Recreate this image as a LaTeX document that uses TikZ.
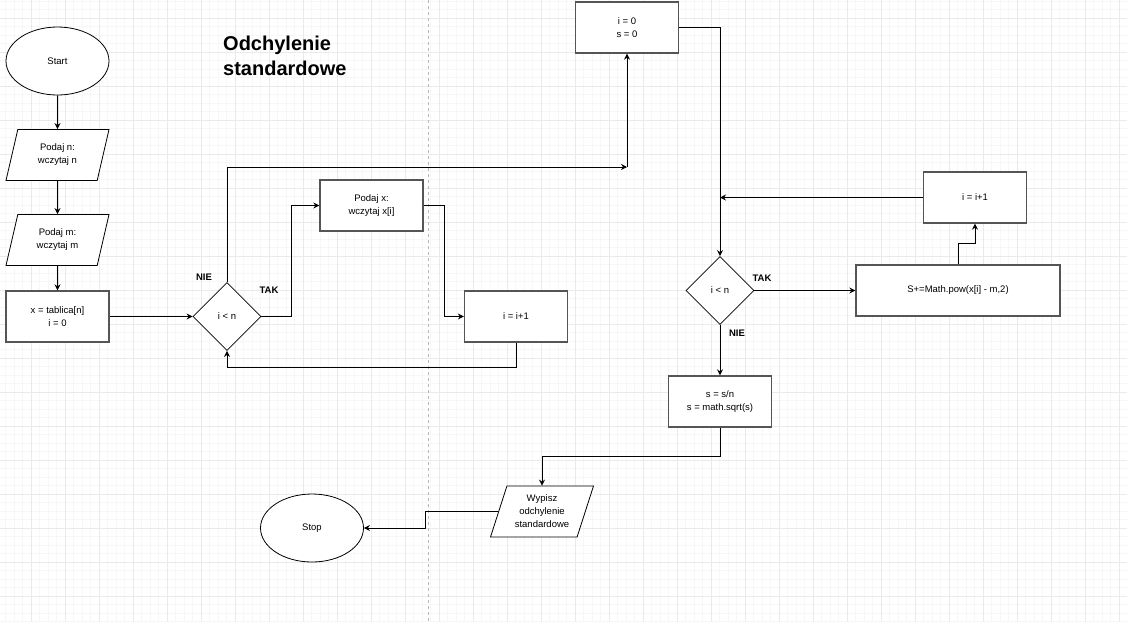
\documentclass[tikz,border=0pt]{standalone}
\usepackage{fontspec}
\setmainfont{Liberation Sans}
\usepackage{xcolor}
\usepackage{tikz}
\usetikzlibrary{arrows.meta}
\usetikzlibrary{shapes.geometric}
\usetikzlibrary{calc}

\definecolor{gridminor}{HTML}{F7F7F7}
\definecolor{gridmajor}{HTML}{EAEAEA}
\definecolor{boxline}{HTML}{555555}

\begin{document}
\begin{tikzpicture}[x=1pt,y=-1pt]

% Define styles
\tikzset{
    txt/.style={align=center, font=\fontsize{9.5}{13}\selectfont},
    box/.style={txt, draw=boxline, line width=1.3pt, fill=white, minimum width=103pt, minimum height=51pt},
    terminal/.style={txt, ellipse, draw, line width=0.8pt, fill=white, minimum width=103pt, minimum height=68pt},
    inout/.style={txt, trapezium, trapezium left angle=67.5, trapezium right angle=112.5, trapezium stretches body, draw, line width=0.8pt, fill=white, minimum width=103pt, minimum height=51pt},
    decision/.style={txt, diamond, draw, line width=0.8pt, fill=white, minimum width=68pt, minimum height=68pt, inner sep=0pt},
    label/.style={font=\bfseries\fontsize{9.5}{11}\selectfont},
    arrow/.style={line width=1pt, -{Stealth[length=6pt,width=6pt,inset=2pt]}}
}

% page and grid lines
\useasboundingbox (0,0) rectangle (1127,622);
\fill[white] (0,0) rectangle (1127,622);
\foreach \x in {5.5,14,...,1127} \draw[gridminor, line width=0.8pt] (\x,0) -- (\x,622);
\foreach \y in {1,9.5,...,622} \draw[gridminor, line width=0.8pt] (0,\y) -- (1127,\y);
\foreach \x in {31,65,...,1127} \draw[gridmajor, line width=0.9pt] (\x,0) -- (\x,622);
\foreach \y in {18,52,...,622} \draw[gridmajor, line width=0.9pt] (0,\y) -- (1127,\y);

% page break line
\draw[gray!55, dashed, line width=0.8pt] (428,0) -- (428,622);

% title
\node[anchor=west, align=left, inner sep=0pt, font=\bfseries\fontsize{20}{25}\selectfont] (title) at (223,56) {Odchylenie\\standardowe};

% left column
\node[terminal] (start) at (57.5,61) {Start};
\node[inout] (podajn) at (57.5,155) {Podaj n:\\wczytaj n};
\node[inout] (podajm) at (57.5,240) {Podaj m:\\wczytaj m};
\node[box] (init) at (57.5,316.5) {x = tablica[n]\\i = 0};

% first loop
\node[decision] (cond1) at (227,316.5) {i < n};
\node[box] (podajx) at (371.5,205.5) {Podaj x:\\wczytaj x[i]};
\node[box] (inc1) at (516,316.5) {i = i+1};

% second loop
\node[box] (init2) at (627,27.5) {i = 0\\s = 0};
\node[decision] (cond2) at (720,290.5) {i < n};
\node[box, minimum width=204pt] (sum) at (958,290.5) {S+=Math.pow(x[i] - m,2)};
\node[box] (inc2) at (975,197.5) {i = i+1};
\node[box] (wynik) at (720,401.5) {s = s/n\\s = math.sqrt(s)};

% output and end
\node[inout] (wypisz) at (542,511.5) {Wypisz\\odchylenie\\standardowe};
\node[terminal] (stop) at (312,528) {Stop};

% branch labels
\node[label] (nie1) at (204,277) {NIE};
\node[label] (tak1) at (269,290) {TAK};
\node[label] (tak2) at (762,278) {TAK};
\node[label] (nie2) at (737,333) {NIE};

% junctions
\coordinate (j1) at ($(init2.south |- 0,167)$);
\coordinate (j2) at (inc2.west -| cond2.north);

% connectors
\draw[arrow] (start.south) -- (podajn.north);
\draw[arrow] (podajn.south) -- (podajm.north);
\draw[arrow] (podajm.south) -- (init.north);
\draw[arrow] (init.east) -- (cond1.west);
\draw[arrow] (cond1.east) -- ++(30,0) |- (podajx.west);
\draw[arrow] (podajx.east) -- ++(21,0) |- (inc1.west);
\draw[arrow] (inc1.south) -- ++(0,25) -| (cond1.south);
\draw[arrow] (cond1.north) |- (j1);
\draw[arrow] (j1) -- (init2.south);
\draw[arrow] (init2.east) -| (cond2.north);
\draw[arrow] (cond2.east) -- (sum.west);
\draw[arrow] (sum.north) -- ++(0,-21) -| (inc2.south);
\draw[arrow] (inc2.west) -- (j2);
\draw[arrow] (cond2.south) -- (wynik.north);
\draw[arrow] (wynik.south) -- ++(0,29) -| (wypisz.north);
\draw[arrow] (wypisz.west) -- ++(-73,0) |- (stop.east);

\end{tikzpicture}
\end{document}
